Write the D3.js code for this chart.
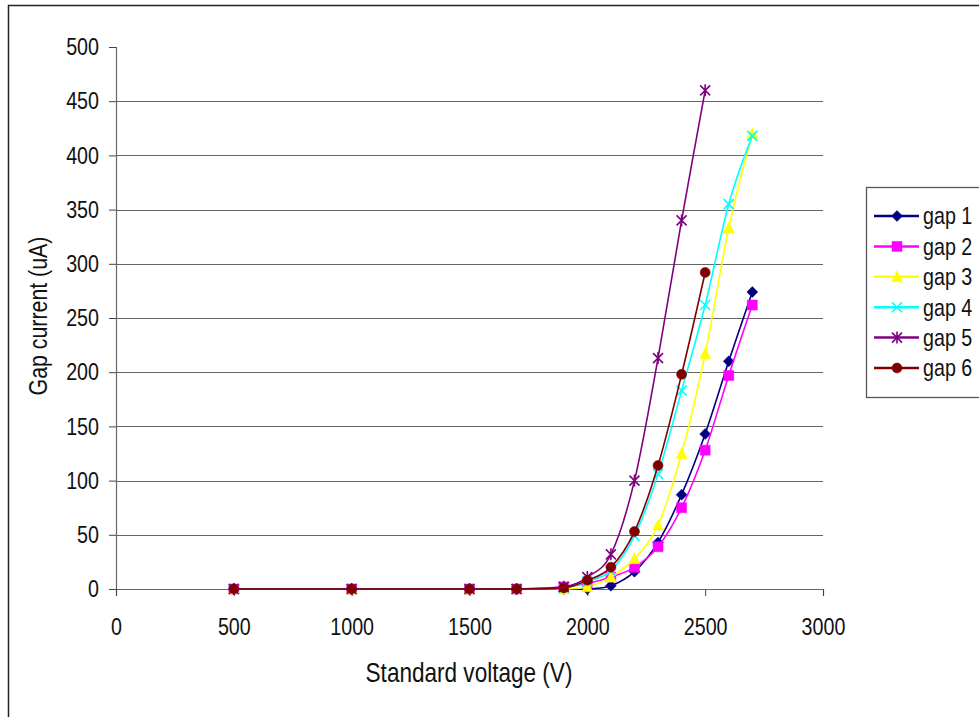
<!DOCTYPE html>
<html>
<head>
<meta charset="utf-8">
<script src="https://cdn.jsdelivr.net/npm/d3@7"></script>
<style>
    body { margin: 0; background: #fff; }
    svg text { font-family: "Liberation Sans", Arial, sans-serif; fill: #111; }
</style>
</head>
<body>
<script>
// standard voltage (V) at which the gaps were measured
var voltage = [500, 1000, 1500, 1700, 1900, 2000, 2100, 2200, 2300, 2400, 2500, 2600, 2700];

// gap current (uA) per gap
var gap1 = [0, 0, 0, 0, 0, 0, 3, 16, 43, 87, 143, 210, 274],
    gap2 = [0, 0, 0, 0, 2, 5, 11, 20, 39, 75, 128, 197, 262],
    gap3 = [0, 0, 0, 0, 0, 2, 11, 28, 59, 125, 217, 333, 420],
    gap4 = [0, 0, 0, 0, 1, 7, 17, 49, 106, 183, 262, 355, 418],
    gap5 = [0, 0, 0, 0, 2, 11, 32, 100, 213, 340, 460],
    gap6 = [0, 0, 0, 0, 1, 8, 20, 53, 114, 198, 292];

var seriesNames = ["gap 1", "gap 2", "gap 3", "gap 4", "gap 5", "gap 6"],
    seriesValues = [gap1, gap2, gap3, gap4, gap5, gap6],
    seriesColors = ["#000080", "#ff00ff", "#ffff00", "#00ffff", "#800080", "#800000"],
    seriesMarkers = ["diamond", "square", "triangle", "cross", "star", "circle"];

var xTicks = [0, 500, 1000, 1500, 2000, 2500, 3000],
    yTicks = [0, 50, 100, 150, 200, 250, 300, 350, 400, 450, 500];

var width = 979,
    height = 717,
    squeeze = 0.82;   // the original font is a condensed one

// build the dataset, one object per series
var dataset = [];
for(let i = 0 ; i < seriesNames.length ; i++)
{
    let points = [];
    for(let j = 0 ; j < seriesValues[i].length ; j++)
    {
        points.push({"voltage" : voltage[j], "current" : seriesValues[i][j]});
    }
    dataset.push({"name" : seriesNames[i], "color" : seriesColors[i],
                  "marker" : seriesMarkers[i], "points" : points});
}

/*
 * Path of a marker shape around (0,0).
 */
function markerPath(type)
{
    let p = d3.path();
    if(type == "diamond")
    {
        p.moveTo(0, -5.5); p.lineTo(5.5, 0); p.lineTo(0, 5.5); p.lineTo(-5.5, 0); p.closePath();
    }
    else if(type == "square")
    {
        p.rect(-5, -5, 10, 10);
    }
    else if(type == "triangle")
    {
        p.moveTo(0, -6); p.lineTo(5.5, 5); p.lineTo(-5.5, 5); p.closePath();
    }
    else if(type == "circle")
    {
        p.arc(0, 0, 5, 0, 2 * Math.PI);
    }
    else if(type == "cross")
    {
        p.moveTo(-5, -5); p.lineTo(5, 5); p.moveTo(5, -5); p.lineTo(-5, 5);
    }
    else if(type == "star")
    {
        p.moveTo(-5, -5); p.lineTo(5, 5); p.moveTo(5, -5); p.lineTo(-5, 5);
        p.moveTo(0, -6); p.lineTo(0, 6);
    }
    return p.toString();
}

/*
 * Draw a marker into a selection.
 */
function drawMarker(sel, d)
{
    let open = (d.marker == "cross" || d.marker == "star");
    sel.append("path")
        .attr("d", markerPath(d.marker))
        .attr("fill", open ? "none" : d.color)
        .attr("stroke", d.color)
        .attr("stroke-width", open ? 1.6 : 0.5);
}

/*
 * Make texts narrower, like the condensed font of the original.
 */
function condense(sel)
{
    sel.each(function()
    {
        let len = this.getComputedTextLength();
        d3.select(this)
            .attr("textLength", len * squeeze)
            .attr("lengthAdjust", "spacingAndGlyphs");
    });
}

var svg = d3.select("body").append("svg")
    .attr("width", width)
    .attr("height", height);

// outer frame of the chart
svg.append("rect")
    .attr("x", 8.5)
    .attr("y", 5.5)
    .attr("width", width)
    .attr("height", height)
    .attr("fill", "#fff")
    .attr("stroke", "#222")
    .attr("stroke-width", 1.5);

// scales
var scaleX = d3.scaleLinear()
    .domain([0, 3000])
    .range([116, 823]);

var scaleY = d3.scaleLinear()
    .domain([0, 500])
    .range([589, 47]);

// horizontal gridlines
svg.append("g")
    .selectAll("line")
    .data(yTicks.filter(function(d) { return d > 0 && d < 500; }))
    .enter()
    .append("line")
        .attr("x1", scaleX(0))
        .attr("x2", scaleX(3000))
        .attr("y1", function(d) { return Math.round(scaleY(d)) + 0.5; })
        .attr("y2", function(d) { return Math.round(scaleY(d)) + 0.5; })
        .attr("stroke", "#666")
        .attr("stroke-width", 1.2);

// y-axis
var yAxis = svg.append("g")
    .attr("transform", "translate(" + scaleX(0) + ",0)")
    .call(d3.axisLeft(scaleY).tickValues(yTicks).tickFormat(d3.format("d"))
          .tickSize(7).tickPadding(10));

// x-axis
var xAxis = svg.append("g")
    .attr("transform", "translate(0," + scaleY(0) + ")")
    .call(d3.axisBottom(scaleX).tickValues(xTicks).tickFormat(d3.format("d"))
          .tickSize(7).tickPadding(22));

[yAxis, xAxis].forEach(function(axis)
{
    axis.select(".domain").attr("stroke", "#666").attr("stroke-width", 1.2);
    axis.selectAll(".tick line").attr("stroke", "#444");
    axis.selectAll("text")
        .attr("fill", "#111")
        .attr("font-size", "24px")
        .style("font-family", "'Liberation Sans', Arial, sans-serif")
        .call(condense);
});

// axis titles
svg.append("text")
    .attr("x", 469)
    .attr("y", 682)
    .attr("text-anchor", "middle")
    .attr("font-size", "27.5px")
    .text("Standard voltage (V)")
    .call(condense);

svg.append("text")
    .attr("transform", "translate(47,316) rotate(-90)")
    .attr("text-anchor", "middle")
    .attr("font-size", "26px")
    .text("Gap current (uA)")
    .call(condense);

// smoothed lines
var line = d3.line()
    .x(function(d) { return scaleX(d.voltage); })
    .y(function(d) { return scaleY(d.current); })
    .curve(d3.curveCatmullRom.alpha(0));

var series = svg.selectAll(".series")
    .data(dataset)
    .enter()
    .append("g")
        .attr("class", "series");

series.append("path")
    .attr("d", function(d) { return line(d.points); })
    .attr("fill", "none")
    .attr("stroke", function(d) { return d.color; })
    .attr("stroke-width", 1.6);

// markers on every point
series.each(function(d)
{
    d3.select(this).selectAll(".pt")
        .data(d.points)
        .enter()
        .append("g")
            .attr("class", "pt")
            .attr("transform", function(p) { return "translate(" + scaleX(p.voltage) + "," + scaleY(p.current) + ")"; })
            .each(function() { drawMarker(d3.select(this), d); });
});

// legend box
var legendTop = 187,
    legendStep = 30.4;

svg.append("rect")
    .attr("x", 866.5)
    .attr("y", legendTop + 0.5)
    .attr("width", 200)
    .attr("height", legendStep * 5 + 58)
    .attr("fill", "#fff")
    .attr("stroke", "#555")
    .attr("stroke-width", 1.3);

var legend = svg.selectAll(".legend")
    .data(dataset)
    .enter()
    .append("g")
        .attr("class", "legend")
        .attr("transform", function(d, i) { return "translate(0," + (legendTop + 29 + i * legendStep) + ")"; });

legend.append("line")
    .attr("x1", 874)
    .attr("x2", 919)
    .attr("stroke", function(d) { return d.color; })
    .attr("stroke-width", 2.5);

legend.append("g")
    .attr("transform", "translate(897,0)")
    .each(function(d) { drawMarker(d3.select(this), d); });

// legend texts, squeezed with a transform so they stay inside the page
legend.append("text")
    .attr("transform", "translate(923,0) scale(" + squeeze + ",1)")
    .attr("dy", "0.35em")
    .attr("font-size", "24px")
    .text(function(d) { return d.name; });
</script>
</body>
</html>
